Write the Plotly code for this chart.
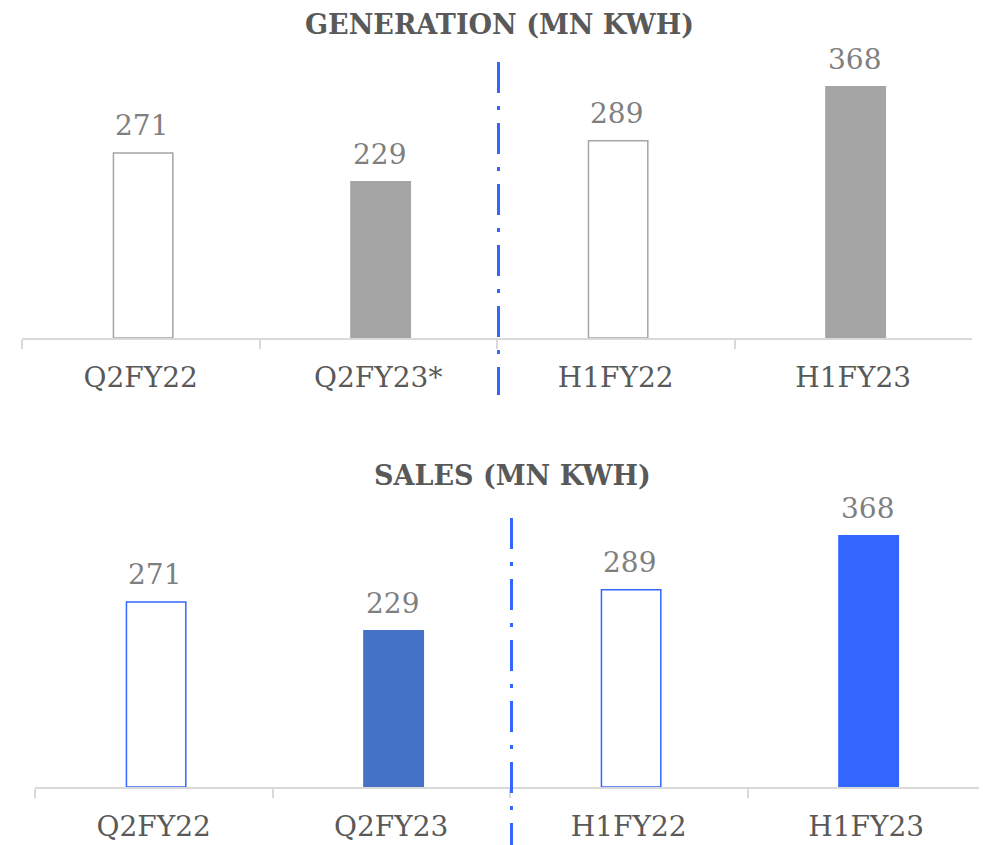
import plotly.graph_objects as go

categories_gen = ["Q2FY22", "Q2FY23*", "H1FY22", "H1FY23"]
generation = [271, 229, 289, 368]
categories_sales = ["Q2FY22", "Q2FY23", "H1FY22", "H1FY23"]
sales = [271, 229, 289, 368]

gen_fill = ["#FFFFFF", "#A5A5A5", "#FFFFFF", "#A5A5A5"]
gen_line = ["#A5A5A5", "#A5A5A5", "#A5A5A5", "#A5A5A5"]
sales_fill = ["#FFFFFF", "#4472C4", "#FFFFFF", "#3366FF"]
sales_line = ["#3366FF", "#4472C4", "#3366FF", "#3366FF"]

FONT = "DejaVu Serif"
OFF = 8          # page body margin
W, H = 987 - OFF, 845 - OFF
PX_PER_UNIT = 0.6825


def px(xr):
    return (xr - OFF) / W


def py(yr):
    return 1 - (yr - OFF) / H


top_axis, bot_axis = 338, 787
plot_h = top_axis - OFF
YMAX = plot_h / PX_PER_UNIT

fig = go.Figure()
fig.add_trace(go.Bar(x=categories_gen, y=generation, width=0.25, offset=-0.115,
                     marker=dict(color=gen_fill, line=dict(color=gen_line, width=1.5)),
                     xaxis="x", yaxis="y", hoverinfo="skip"))
fig.add_trace(go.Bar(x=categories_sales, y=sales, width=0.25, offset=-0.115,
                     marker=dict(color=sales_fill, line=dict(color=sales_line, width=1.5)),
                     xaxis="x2", yaxis="y2", hoverinfo="skip"))

annotations = []
for c, v in zip(categories_gen, generation):
    annotations.append(dict(x=c, y=v, xref="x", yref="y", text=str(v), showarrow=False,
                            yanchor="bottom", yshift=9, xshift=1,
                            font=dict(family=FONT, size=28, color="#7F7F7F")))
for c, v in zip(categories_sales, sales):
    annotations.append(dict(x=c, y=v, xref="x2", yref="y2", text=str(v), showarrow=False,
                            yanchor="bottom", yshift=9, xshift=1,
                            font=dict(family=FONT, size=28, color="#7F7F7F")))
annotations.append(dict(x=px(499), y=1.0, xref="paper", yref="paper",
                        text="<b>GENERATION (MN KWH)</b>", showarrow=False,
                        xanchor="center", yanchor="top", yshift=1,
                        font=dict(family=FONT, size=27, color="#595959")))
annotations.append(dict(x=px(512), y=py(476), xref="paper", yref="paper",
                        text="<b>SALES (MN KWH)</b>", showarrow=False,
                        xanchor="center", yanchor="middle",
                        font=dict(family=FONT, size=27, color="#595959")))

dash = "31px,13px,4px,13px"
shapes = [
    dict(type="line", xref="paper", yref="paper",
         x0=px(498.5), x1=px(498.5), y0=py(62), y1=py(395),
         line=dict(color="#3366FF", width=3, dash=dash)),
    dict(type="line", xref="paper", yref="paper",
         x0=px(511.5), x1=px(511.5), y0=py(518), y1=py(845),
         line=dict(color="#3366FF", width=3, dash=dash)),
]

xcommon = dict(type="category", range=[-0.5, 3.5], showline=True, linecolor="#D9D9D9",
               linewidth=1.5, ticks="outside", tickson="boundaries", ticklen=9,
               tickcolor="#D9D9D9", tickwidth=1.5, showgrid=False, zeroline=False,
               tickfont=dict(family=FONT, size=28, color="#595959"),
               ticklabelstandoff=14, fixedrange=True)

fig.update_layout(
    width=W, height=H,
    margin=dict(l=0, r=0, t=0, b=0),
    paper_bgcolor="white", plot_bgcolor="white",
    showlegend=False,
    xaxis=dict(domain=[px(22), px(972)], anchor="y", **xcommon),
    yaxis=dict(domain=[py(top_axis), 1.0], range=[0, YMAX], visible=False),
    xaxis2=dict(domain=[px(35), px(985)], anchor="y2", **xcommon),
    yaxis2=dict(domain=[py(bot_axis), py(bot_axis - plot_h)], range=[0, YMAX], visible=False),
    annotations=annotations,
    shapes=shapes,
)

fig.write_html("out.html")
